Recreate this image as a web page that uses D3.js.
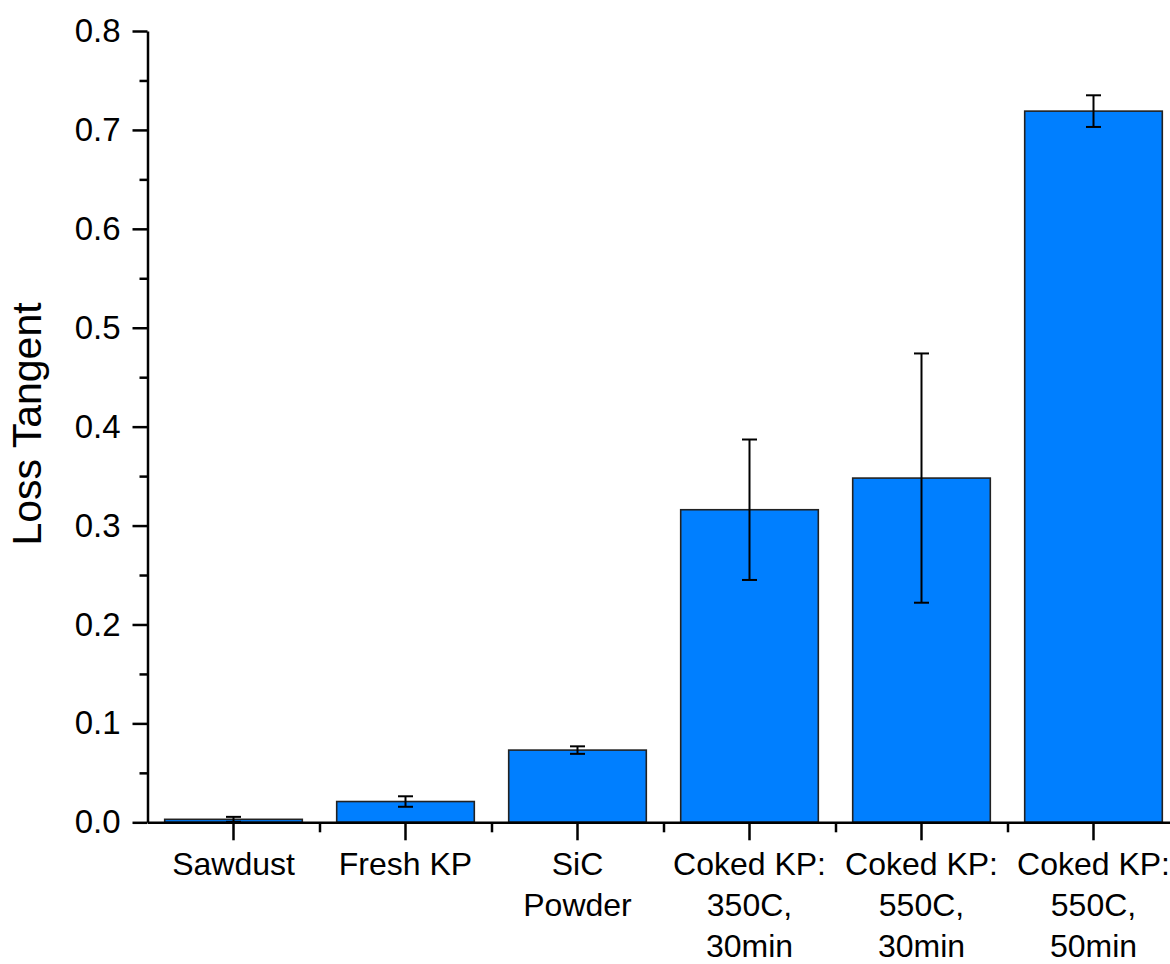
<!DOCTYPE html>
<html>
<head>
<meta charset="utf-8">
<script src="https://cdn.jsdelivr.net/npm/d3@7"></script>
<style>
  html, body { margin: 0; padding: 0; background: #fff; }
  svg { display: block; font-family: "Liberation Sans", Arial, sans-serif; }
</style>
</head>
<body>
<svg id="chart" width="1170" height="964"></svg>
<script>
// Sample categories (line breaks split the axis labels)
const categories = [
  "Sawdust",
  "Fresh KP",
  "SiC\nPowder",
  "Coked KP:\n350C,\n30min",
  "Coked KP:\n550C,\n30min",
  "Coked KP:\n550C,\n50min"
];
// Mean loss tangent for each sample
const lossTangent = [0.003, 0.021, 0.073, 0.316, 0.348, 0.719];
// Standard deviation (error bar half-length)
const lossError = [0.0025, 0.0053, 0.0038, 0.071, 0.126, 0.016];
// Axis ticks
const yMajorTicks = [0.0, 0.1, 0.2, 0.3, 0.4, 0.5, 0.6, 0.7, 0.8];
const yMinorTicks = [0.05, 0.15, 0.25, 0.35, 0.45, 0.55, 0.65, 0.75];
const yTitle = "Loss Tangent";

const svg = d3.select("#chart");
const plot = { left: 147.5, right: 1179.5, top: 31, bottom: 822.3 };

const x = d3.scaleBand()
  .domain(categories)
  .range([plot.left, plot.right])
  .paddingInner(0.2)
  .paddingOuter(0.1);

// group boundaries along the x axis
const xStep = d3.scaleLinear().domain([0, categories.length]).range([plot.left, plot.right]);

const y = d3.scaleLinear().domain([0, 0.8]).range([plot.bottom, plot.top]);

const yTickFont = 33;
const xLabelFont = 32;

// Bars
svg.append("g")
  .selectAll("rect")
  .data(lossTangent)
  .join("rect")
  .attr("x", (d, i) => x(categories[i]))
  .attr("y", d => y(d))
  .attr("width", x.bandwidth())
  .attr("height", d => y(0) - y(d))
  .attr("fill", "#007FFF")
  .attr("stroke", "#222")
  .attr("stroke-width", 1.6);

// Error bars
const capHalf = 7.5;
const eb = svg.append("g").attr("stroke", "#000").attr("stroke-width", 2).attr("fill", "none");
lossTangent.forEach((d, i) => {
  const cx = x(categories[i]) + x.bandwidth() / 2;
  const hi = y(d + lossError[i]);
  const lo = y(d - lossError[i]);
  eb.append("line").attr("x1", cx).attr("x2", cx).attr("y1", hi).attr("y2", lo);
  eb.append("line").attr("x1", cx - capHalf).attr("x2", cx + capHalf).attr("y1", hi).attr("y2", hi);
  eb.append("line").attr("x1", cx - capHalf).attr("x2", cx + capHalf).attr("y1", lo).attr("y2", lo);
});

// Y axis: minor ticks
svg.append("g")
  .attr("transform", `translate(${plot.left},0)`)
  .call(d3.axisLeft(y).tickValues(yMinorTicks).tickSize(8).tickSizeOuter(0).tickFormat(""))
  .call(g => g.select(".domain").remove())
  .call(g => g.selectAll("line").attr("stroke", "#000").attr("stroke-width", 2.5));

// Y axis: major ticks and labels
svg.append("g")
  .attr("transform", `translate(${plot.left},0)`)
  .call(d3.axisLeft(y).tickValues(yMajorTicks).tickSize(15).tickSizeOuter(0).tickPadding(12)
    .tickFormat(d3.format(".1f")))
  .call(g => g.select(".domain").attr("stroke", "#000").attr("stroke-width", 2.5))
  .call(g => g.selectAll("line").attr("stroke", "#000").attr("stroke-width", 2.5))
  .call(g => g.selectAll("text")
    .attr("font-size", yTickFont)
    .attr("font-family", "Liberation Sans, Arial, sans-serif")
    .attr("fill", "#000"));

// X axis: minor ticks at group boundaries
svg.append("g")
  .attr("transform", `translate(0,${plot.bottom})`)
  .call(d3.axisBottom(xStep).tickValues([1, 2, 3, 4, 5]).tickSize(10).tickSizeOuter(0).tickFormat(""))
  .call(g => g.select(".domain").remove())
  .call(g => g.selectAll("line").attr("stroke", "#000").attr("stroke-width", 2.5));

// X axis: baseline, major ticks and category labels
const xAxisG = svg.append("g")
  .attr("transform", `translate(0,${plot.bottom})`)
  .call(d3.axisBottom(x).tickSize(18).tickSizeOuter(0).tickFormat(""));
xAxisG.select(".domain").attr("stroke", "#000").attr("stroke-width", 2.5);
xAxisG.selectAll("line").attr("stroke", "#000").attr("stroke-width", 2.5);

const lineGap = 41;
xAxisG.selectAll(".tick")
  .append("text")
  .attr("fill", "#000")
  .attr("font-size", xLabelFont)
  .attr("font-family", "Liberation Sans, Arial, sans-serif")
  .attr("text-anchor", "middle")
  .each(function(d) {
    const lines = d.split("\n");
    const t = d3.select(this);
    lines.forEach((ln, k) => {
      t.append("tspan").attr("x", 0).attr("y", 53 + k * lineGap).text(ln);
    });
  });

// Y axis title
svg.append("text")
  .attr("transform", `translate(41,${(300 + 548) / 2}) rotate(-90)`)
  .attr("text-anchor", "middle")
  .attr("font-size", 41)
  .attr("font-family", "Liberation Sans, Arial, sans-serif")
  .attr("fill", "#000")
  .text(yTitle);
</script>
</body>
</html>
